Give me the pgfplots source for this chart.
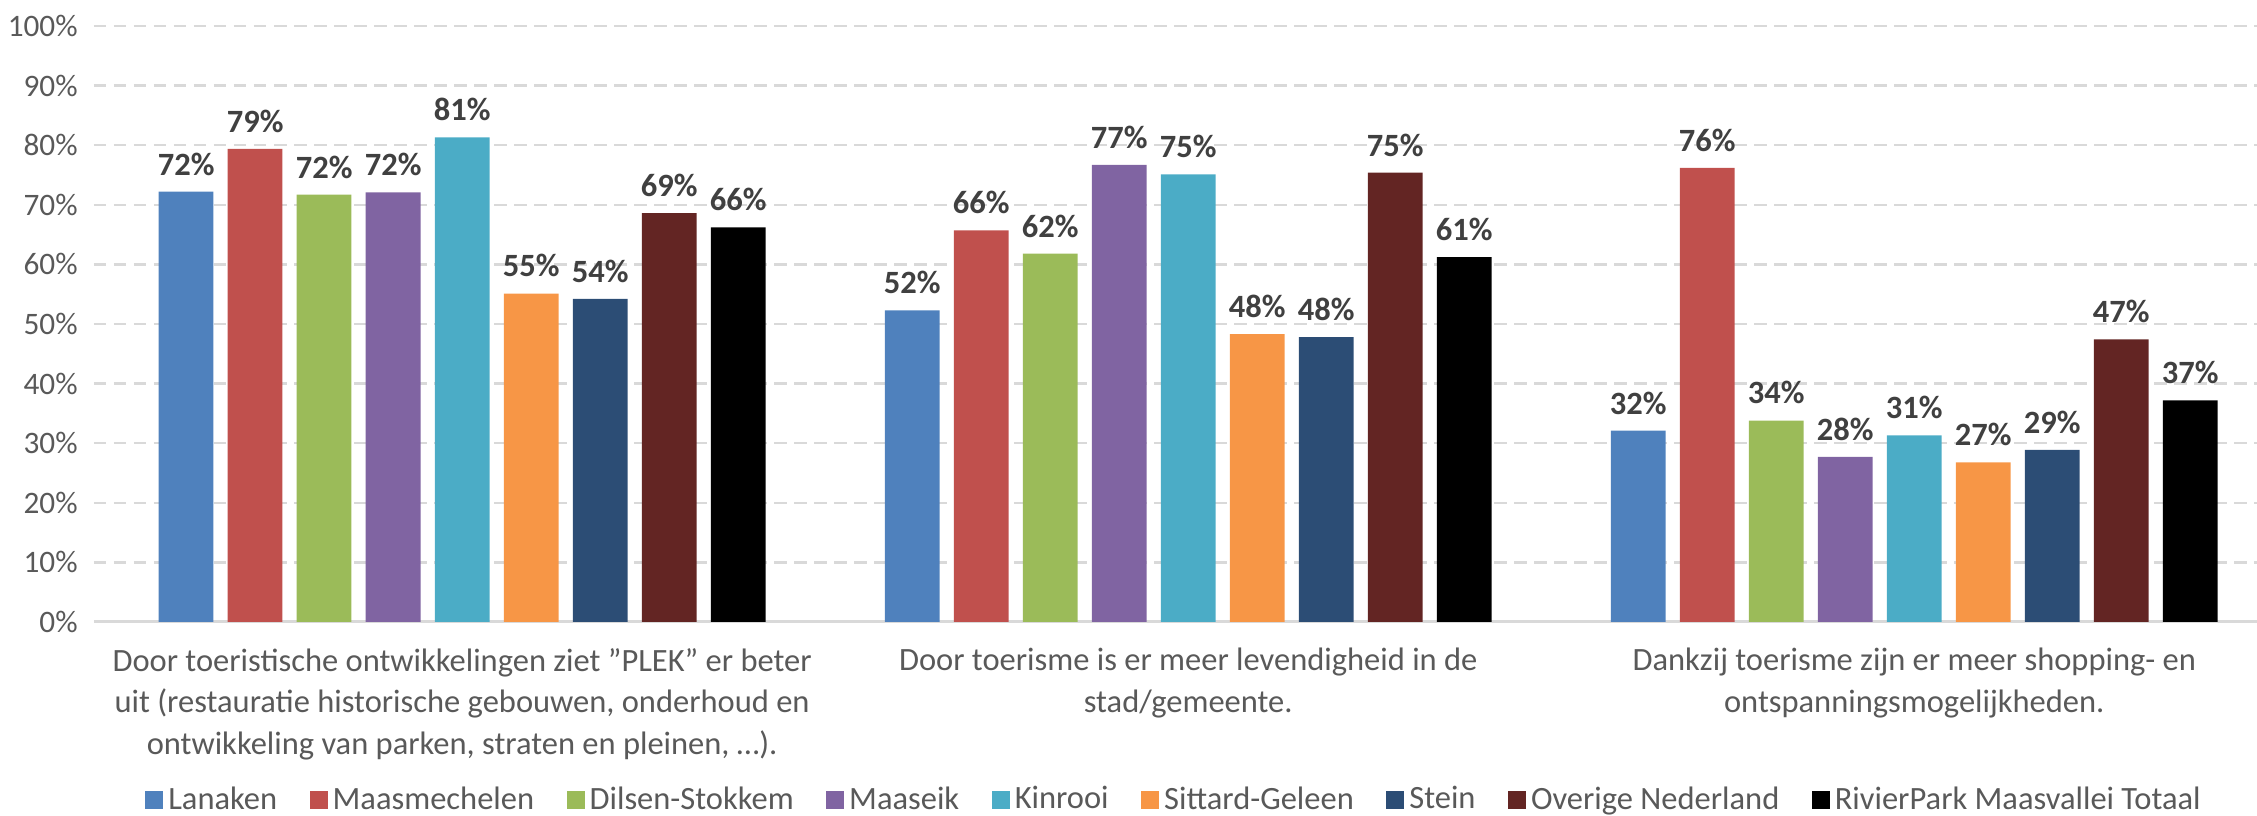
\documentclass[border=0pt]{standalone}
\usepackage{pgfplots}
\usepackage{pgfplotstable}
\pgfplotsset{compat=1.18}
\usepackage{fontspec}
\setmainfont{Carlito}

\definecolor{cLan}{HTML}{4F81BD}
\definecolor{cMaa}{HTML}{C0504D}
\definecolor{cDil}{HTML}{9BBB59}
\definecolor{cMas}{HTML}{8064A2}
\definecolor{cKin}{HTML}{4BACC6}
\definecolor{cSit}{HTML}{F79646}
\definecolor{cSte}{HTML}{2C4D75}
\definecolor{cOve}{HTML}{632523}
\definecolor{cTot}{HTML}{000000}
\definecolor{txt}{HTML}{595959}
\definecolor{lbl}{HTML}{404040}
\definecolor{grd}{HTML}{D9D9D9}

\pgfplotstableread{
x Lanaken Maasmechelen Dilsen Maaseik Kinrooi Sittard Stein Overige Totaal
0 72.2 79.4 71.7 72.1 81.3 55.1 54.2 68.6 66.2
1 52.3 65.7 61.8 76.7 75.1 48.3 47.8 75.4 61.2
2 32.1 76.2 33.8 27.7 31.3 26.8 28.9 47.4 37.2
}\data

\begin{document}
\begin{tikzpicture}
\begin{axis}[
  at={(0pt,0pt)}, anchor=south west,
  scale only axis, width=865.2pt, height=238.4pt,
  ybar=5.7pt, bar width=21.9pt,
  xmin=-0.507, xmax=2.472, ymin=0, ymax=100,
  xtick={0,1,2},
  xticklabels={
    {Door toeristische ontwikkelingen ziet ”PLEK” er beter\\uit (restauratie historische gebouwen, onderhoud en\\ontwikkeling van parken, straten en pleinen, …).},
    {Door toerisme is er meer levendigheid in de\\stad/gemeente.},
    {Dankzij toerisme zijn er meer shopping- en\\ontspanningsmogelijkheden.}},
  ytick={0,10,...,100},
  yticklabel={\pgfmathprintnumber{\tick}\%},
  /pgf/number format/assume math mode=true,
  major tick length=0pt,
  axis line style={draw=none},
  ymajorgrids, grid style={grd, line width=1pt, dash pattern=on 5pt off 3pt},
  extra y ticks={0}, extra y tick labels={},
  extra y tick style={grid style={grd, solid, line width=1.2pt}},
  yticklabel style={font=\fontsize{12.5}{15}\selectfont, text=txt, xshift=-3pt},
  xticklabel style={font=\fontsize{13}{16.6}\selectfont, text=txt, align=center, yshift=-7pt},
  nodes near coords={\pgfmathprintnumber[fixed,precision=0]{\pgfplotspointmeta}\%},
  every node near coord/.append style={font=\bfseries\fontsize{13}{15}\selectfont, text=lbl, yshift=3pt},
  every axis plot post/.append style={draw=none,
    legend image code/.code={\fill[##1] (0pt,-3.6pt) rectangle (7.2pt,3.6pt);}},
  legend columns=-1,
  legend style={at={(0.5,-0.298)}, anchor=center, draw=none, fill=none,
    font=\fontsize{13}{15}\selectfont, text=txt,
    /tikz/every even column/.append style={column sep=11pt}},
]
\addplot[fill=cLan] table[x=x,y=Lanaken]{\data};
\addlegendentry{Lanaken}
\addplot[fill=cMaa] table[x=x,y=Maasmechelen]{\data};
\addlegendentry{Maasmechelen}
\addplot[fill=cDil] table[x=x,y=Dilsen]{\data};
\addlegendentry{Dilsen-Stokkem}
\addplot[fill=cMas] table[x=x,y=Maaseik]{\data};
\addlegendentry{Maaseik}
\addplot[fill=cKin] table[x=x,y=Kinrooi]{\data};
\addlegendentry{Kinrooi}
\addplot[fill=cSit] table[x=x,y=Sittard]{\data};
\addlegendentry{Sittard-Geleen}
\addplot[fill=cSte] table[x=x,y=Stein]{\data};
\addlegendentry{Stein}
\addplot[fill=cOve] table[x=x,y=Overige]{\data};
\addlegendentry{Overige Nederland}
\addplot[fill=cTot] table[x=x,y=Totaal]{\data};
\addlegendentry{RivierPark Maasvallei Totaal}
\end{axis}
\pgfresetboundingbox
\path (-37.6pt,-77.6pt) rectangle (865.2pt,248.8pt);
\end{tikzpicture}
\end{document}
